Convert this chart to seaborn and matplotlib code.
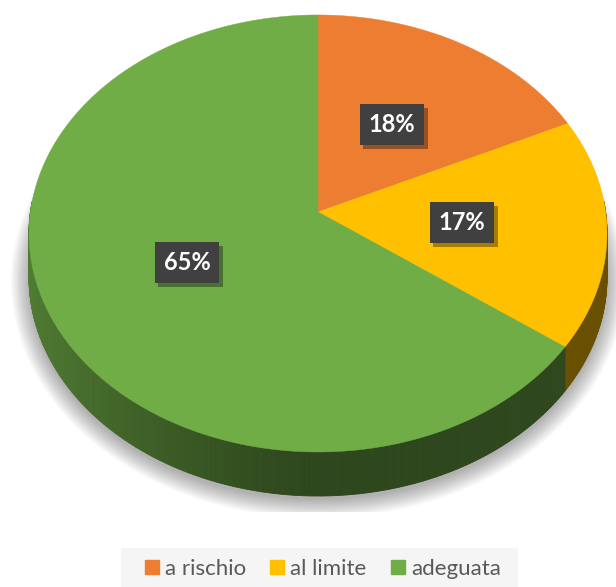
import numpy as np
import matplotlib.pyplot as plt
import seaborn as sns
from matplotlib.patches import Patch, Rectangle
from matplotlib.collections import PolyCollection
from matplotlib.colors import to_rgb
import matplotlib.patheffects as pe

# dati del grafico
labels = ['a rischio', 'al limite', 'adeguata']
values = [18, 17, 65]
colors = ['#ED7D31', '#FFC000', '#70AD47']

sns.set_theme(style='white')
plt.rcParams['font.family'] = ['Lato', 'DejaVu Sans']

W, H = 616, 587
CX, CY = 318, 212          # centro della torta (pixel)
A, B, K = 287.6, 216.4, 0.0983   # raggi e prospettiva
DEPTH = 44                 # spessore 3D


def proj(theta, r=1.0):
    x = r * np.cos(theta)
    y = r * np.sin(theta)
    w = 1 + K * y
    return CX + A * x / w, CY - B * y / w


fig = plt.figure(figsize=(W / 100, H / 100), dpi=100)
ax = fig.add_axes([0, 0, 1, 1])
ax.set_xlim(0, W)
ax.set_ylim(H, 0)
ax.axis('off')

frac = np.array(values) / sum(values)
edges = np.concatenate([[0], np.cumsum(frac)])
angles = np.pi / 2 - 2 * np.pi * edges   # senso orario da ore 12

# ombra morbida
clip = Rectangle((0, 0), W, 512, transform=ax.transData)
tt = np.linspace(0, 2 * np.pi, 400)
sx, sy = proj(tt)
ecx, ecy = (sx.max() + sx.min()) / 2, (sy.max() + sy.min()) / 2
aw, bh = (sx.max() - sx.min()) / 2, (sy.max() - sy.min()) / 2
for e in np.linspace(0, 18, 14):
    px = ecx + (sx - ecx) * (1 + e / aw)
    py = ecy + DEPTH + 4 + (sy - ecy) * (1 + e / bh)
    p, = ax.fill(px, py, color='black', alpha=0.024, lw=0, zorder=1)
    p.set_clip_path(clip)

# fianchi
for i, c in enumerate(colors):
    t = np.linspace(angles[i], angles[i + 1], max(int(frac[i] * 720), 8))
    polys, cols = [], []
    base = np.array(to_rgb(c))
    for t0, t1 in zip(t[:-1], t[1:]):
        tm = (t0 + t1) / 2
        if np.sin(tm) > 0.05:
            continue
        x0, y0 = proj(t0)
        x1, y1 = proj(t1)
        polys.append([(x0, y0), (x1, y1), (x1, y1 + DEPTH), (x0, y0 + DEPTH)])
        f = 0.41 + 0.31 * max(0.0, -np.cos(tm)) ** 1.3
        cols.append(np.clip(base * f, 0, 1))
    if polys:
        ax.add_collection(PolyCollection(polys, facecolors=cols, edgecolors=cols,
                                         linewidths=0.6, zorder=2))

# faccia superiore
for i, c in enumerate(colors):
    t = np.linspace(angles[i], angles[i + 1], max(int(frac[i] * 720), 8))
    x, y = proj(t)
    ax.fill(np.r_[CX, x], np.r_[CY, y], color=c, lw=0.3, ec=c, zorder=3)

# etichette percentuali
for i, v in enumerate(values):
    tm = (angles[i] + angles[i + 1]) / 2
    lx, ly = proj(tm, 0.5)
    txt = ax.text(lx, ly, f'{v}%', ha='center', va='center', fontsize=17,
                  fontweight='bold', color='white', zorder=5,
                  bbox=dict(boxstyle='square,pad=0.38', fc='#404040', ec='none'))
    txt.get_bbox_patch().set_path_effects([
        pe.SimplePatchShadow(offset=(2.5, -3), shadow_rgbFace='black', alpha=0.35),
        pe.Normal()])

# legenda
fig.patches.append(Rectangle((121 / W, 0), 397 / W, 39 / H, transform=fig.transFigure,
                             fc='#F5F5F5', ec='none', zorder=0))
handles = [Patch(color=c, label=l) for c, l in zip(colors, labels)]
fig.legend(handles=handles, loc='center', bbox_to_anchor=(323 / W, 1 - 569 / H),
           ncol=3, frameon=False, fontsize=16, handlelength=0.63, handleheight=0.63,
           handletextpad=0.27, columnspacing=1.1, labelcolor='#595959')

fig.savefig('out.png', dpi=100)
